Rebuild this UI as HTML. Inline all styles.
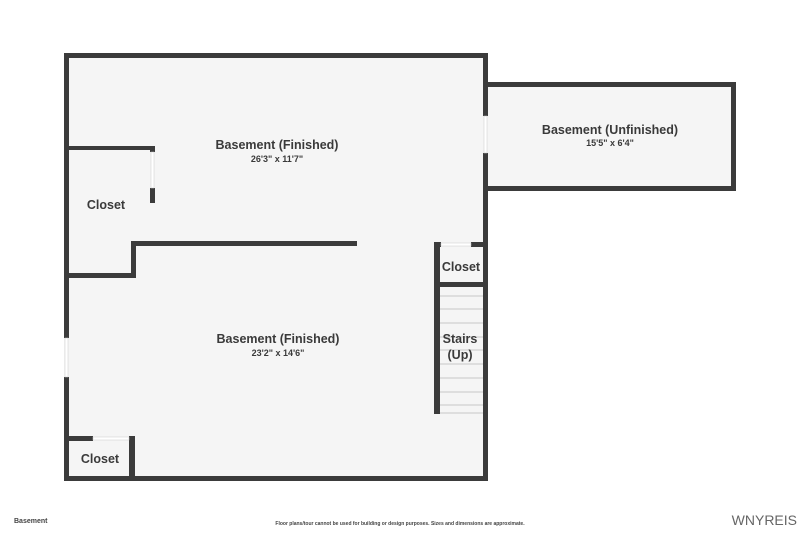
<!DOCTYPE html>
<html><head><meta charset="utf-8"><style>
body{margin:0;background:#fff;}
svg{display:block;font-family:"Liberation Sans",sans-serif;}
.t{font-weight:bold;fill:#3a3a3a;text-anchor:middle;}
</style></head><body>
<svg width="800" height="534" viewBox="0 0 800 534" xmlns="http://www.w3.org/2000/svg">
<rect width="800" height="534" fill="#fff"/>
<!-- floors -->
<rect x="64" y="53" width="424" height="428" fill="#f5f5f5"/>
<rect x="486" y="82" width="250" height="109" fill="#f5f5f5"/>
<g fill="#3b3b3b">
<!-- main outer -->
<rect x="64" y="53" width="424" height="5"/>
<rect x="64" y="53" width="5" height="285"/>
<rect x="64" y="377" width="5" height="104"/>
<rect x="64" y="476" width="424" height="5"/>
<rect x="483" y="53" width="5" height="63"/>
<rect x="483" y="153" width="5" height="328"/>
<!-- unfinished -->
<rect x="486" y="82" width="250" height="5"/>
<rect x="486" y="186" width="250" height="5"/>
<rect x="731" y="82" width="5" height="109"/>
<!-- upper closet -->
<rect x="69" y="146" width="86" height="4"/>
<rect x="150" y="146" width="5" height="6"/>
<rect x="150" y="188" width="5" height="15"/>
<rect x="131" y="241" width="226" height="5"/>
<rect x="131" y="241" width="5" height="37"/>
<rect x="69" y="273" width="67" height="5"/>
<!-- right closet & stairs -->
<rect x="434" y="242" width="6" height="172"/>
<rect x="434" y="242" width="7" height="5"/>
<rect x="471" y="242" width="17" height="5"/>
<rect x="440" y="282" width="43" height="5"/>
<!-- lower closet -->
<rect x="69" y="436" width="24" height="5"/>
<rect x="129" y="436" width="6" height="45"/>
</g>
<!-- door gaps -->
<rect x="151" y="152" width="3" height="36" fill="#fff" stroke="#ccc" stroke-width="0.5"/>
<rect x="65" y="338" width="3" height="39" fill="#fff" stroke="#ccc" stroke-width="0.5"/>
<rect x="484" y="116" width="3" height="37" fill="#fff" stroke="#ccc" stroke-width="0.5"/>
<rect x="441" y="243" width="30" height="3" fill="#fff" stroke="#ccc" stroke-width="0.5"/>
<rect x="93" y="437" width="36" height="3" fill="#fff" stroke="#ccc" stroke-width="0.5"/>
<!-- stair treads -->
<g stroke="#c8c8c8" stroke-width="1">
<line x1="440" y1="296" x2="483" y2="296"/>
<line x1="440" y1="309" x2="483" y2="309"/>
<line x1="440" y1="323" x2="483" y2="323"/>
<line x1="440" y1="337" x2="483" y2="337"/>
<line x1="440" y1="350" x2="483" y2="350"/>
<line x1="440" y1="364" x2="483" y2="364"/>
<line x1="440" y1="378" x2="483" y2="378"/>
<line x1="440" y1="392" x2="483" y2="392"/>
<line x1="440" y1="405" x2="483" y2="405"/>
<line x1="440" y1="413" x2="483" y2="413"/>
</g>
<!-- labels -->
<text class="t" x="277" y="149" font-size="12.5">Basement (Finished)</text>
<text class="t" x="277" y="162" font-size="9">26'3" x 11'7"</text>
<text class="t" x="278" y="343" font-size="12.5">Basement (Finished)</text>
<text class="t" x="278" y="356" font-size="9">23'2" x 14'6"</text>
<text class="t" x="610" y="134" font-size="12.5">Basement (Unfinished)</text>
<text class="t" x="610" y="146" font-size="9">15'5" x 6'4"</text>
<text class="t" x="106" y="209" font-size="12.5">Closet</text>
<text class="t" x="461" y="271" font-size="12.5">Closet</text>
<text class="t" x="100" y="463" font-size="12.5">Closet</text>
<text class="t" x="460" y="343" font-size="12.5">Stairs</text>
<text class="t" x="460" y="359" font-size="12.5">(Up)</text>
<text x="14" y="523" font-size="7" font-weight="bold" fill="#444">Basement</text>
<text x="400" y="525" font-size="5" font-weight="bold" fill="#444" text-anchor="middle">Floor plans/tour cannot be used for building or design purposes. Sizes and dimensions are approximate.</text>
<text x="797" y="525" font-size="14" fill="#666" text-anchor="end">WNYREIS</text>
</svg>
</body></html>
